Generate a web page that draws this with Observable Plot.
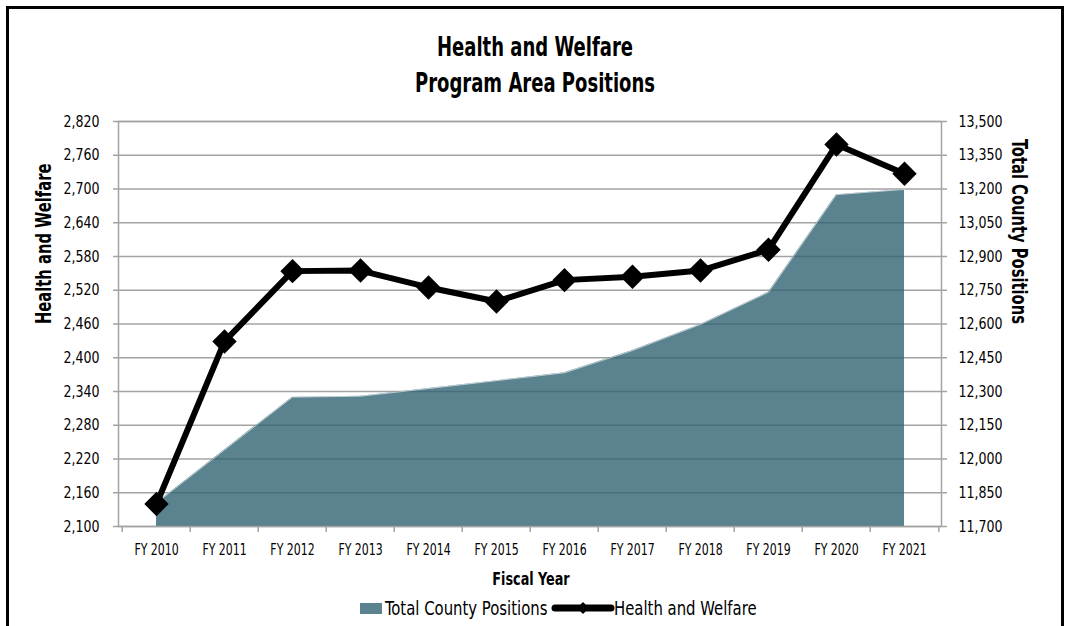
<!DOCTYPE html>
<html>
<head>
<meta charset="utf-8">
<script src="https://cdn.jsdelivr.net/npm/d3@7"></script>
<script src="https://cdn.jsdelivr.net/npm/@observablehq/plot@0.6"></script>
<style>
  html, body { margin: 0; padding: 0; background: #fff; }
  #wrap { position: relative; width: 1066px; height: 626px; overflow: hidden; font-family: "DejaVu Sans Condensed", "Liberation Sans Narrow", sans-serif; color: #000; }
  #border { position: absolute; left: 6px; top: 6px; width: 1052px; height: 700px; border: 3px solid #000; }
  #title { position: absolute; top: 29px; left: 0; width: 1070px; text-align: center; font-weight: bold; font-size: 26px; line-height: 36px; transform: scaleX(0.77); transform-origin: 50% 50%; }
  #chart { position: absolute; top: 100px; left: 0; }
  #xtitle { position: absolute; top: 567px; left: 0; width: 1062px; text-align: center; font-weight: bold; font-size: 18px; line-height: 24px; transform: scaleX(0.79); transform-origin: 50% 50%; }
  .lg { position: absolute; top: 596px; font-size: 19px; line-height: 24px; white-space: nowrap; transform-origin: 0 50%; transform: scaleX(0.87); }
  .sw { position: absolute; left: 360px; top: 603px; width: 22px; height: 11px; background: #5a828f; }
  #lgline { position: absolute; left: 551px; top: 600px; }
</style>
</head>
<body>
<div id="wrap">
  <div id="border"></div>
  <div id="title">Health and Welfare<br>Program Area Positions</div>
  <div id="chart"></div>
  <div id="xtitle">Fiscal Year</div>
  <span class="sw"></span>
  <span class="lg" style="left:385px">Total County Positions</span>
  <svg id="lgline" width="64" height="16">
    <line x1="4" y1="8" x2="60" y2="8" stroke="#000" stroke-width="7" stroke-linecap="round"></line>
    <path d="M32,2 L38,8 L32,14 L26,8 Z" fill="#000"></path>
  </svg>
  <span class="lg" style="left:614px">Health and Welfare</span>
</div>
<script>
const years = ["FY 2010","FY 2011","FY 2012","FY 2013","FY 2014","FY 2015","FY 2016","FY 2017","FY 2018","FY 2019","FY 2020","FY 2021"];
const healthWelfare = [2140, 2429, 2554, 2555, 2525, 2500, 2538, 2544, 2555, 2592, 2779, 2727];
const totalCounty = [11805, 12040, 12275, 12279, 12313, 12348, 12383, 12482, 12598, 12741, 13175, 13198];
const leftTicks = d3.range(2100, 2821, 60);
const rightTicks = d3.range(11700, 13501, 150);

const L0 = 2100, L1 = 2820, R0 = 11700, R1 = 13500;
const toLeft = v => L0 + (v - R0) * (L1 - L0) / (R1 - R0);
const fromLeft = v => R0 + (v - L0) * (R1 - R0) / (L1 - L0);

const data = years.map((y, i) => ({year: y, hw: healthWelfare[i], total: totalCounty[i]}));

const W = 1066, H = 460, mL = 118, mR = 125, mT = 21, mB = 34;
const step = (W - mL - mR) / years.length;
const unitsPerPx = (L1 - L0) / (H - mT - mB);
const FONT = '"DejaVu Sans Condensed", "Liberation Sans Narrow", sans-serif';
const GRID = "#a3a3a3";

const chart = Plot.plot({
  width: W, height: H,
  marginLeft: mL, marginRight: mR, marginTop: mT, marginBottom: mB,
  x: {type: "point", domain: years, padding: 0.5, label: null},
  y: {domain: [L0, L1], label: null},
  style: {fontFamily: FONT, fontSize: "16px", color: "#000", background: "transparent", overflow: "visible"},
  marks: [
    Plot.ruleY(leftTicks, {y: d => d, stroke: GRID, strokeWidth: 1.5}),
    Plot.areaY(data, {x: "year", y1: L0, y2: d => toLeft(d.total), fill: "rgb(46,97,113)", fillOpacity: 0.79}),
    Plot.line(data, {x: "year", y: d => toLeft(d.total), stroke: "#fff", strokeWidth: 1, strokeOpacity: 0.6}),
    Plot.frame({stroke: GRID, strokeWidth: 1.5}),
    Plot.axisY(leftTicks, {anchor: "left", tickSize: 5, tickPadding: 14, stroke: GRID, strokeWidth: 1.5, fill: "#000", fontSize: 16, tickFormat: d3.format(","), label: null}),
    Plot.axisY(rightTicks.map(toLeft), {anchor: "right", tickSize: 5, tickPadding: 12, stroke: GRID, strokeWidth: 1.5, fill: "#000", fontSize: 16, tickFormat: v => d3.format(",")(Math.round(fromLeft(v))), label: null}),
    Plot.axisX({tickSize: 0, tickPadding: 18, fontSize: 15, fill: "#000", label: null}),
    Plot.ruleX(years, {x: d => d, dx: -step / 2, y1: L0, y2: L0 - 6 * unitsPerPx, stroke: GRID, strokeWidth: 1.5}),
    Plot.ruleX([years[years.length - 1]], {x: d => d, dx: step / 2, y1: L0, y2: L0 - 6 * unitsPerPx, stroke: GRID, strokeWidth: 1.5}),
    Plot.line(data, {x: "year", y: "hw", stroke: "#000", strokeWidth: 6, strokeLinejoin: "round"}),
    Plot.dot(data, {x: "year", y: "hw", symbol: "diamond2", r: 11, fill: "#000", stroke: "none"}),
    Plot.text(["Health and Welfare"], {text: d => d, frameAnchor: "left", dx: -74, rotate: -90, fontWeight: "bold", fontSize: 21, fill: "#000"}),
    Plot.text(["Total County Positions"], {text: d => d, frameAnchor: "right", dx: 77, rotate: 90, fontWeight: "bold", fontSize: 21, fill: "#000"})
  ]
});
document.getElementById("chart").appendChild(chart);

// condense glyphs horizontally to mimic the narrow typeface of the original
function condense(sel, f) {
  d3.select(chart).selectAll(sel).each(function () {
    const len = this.getComputedTextLength();
    if (len > 0) {
      this.setAttribute("textLength", (len * f).toFixed(2));
      this.setAttribute("lengthAdjust", "spacingAndGlyphs");
    }
  });
}
condense('g[aria-label="y-axis tick label"] text', 0.875);
condense('g[aria-label="x-axis tick label"] text', 0.81);
condense('g[aria-label="text"] text', 0.78);
</script>
</body>
</html>
